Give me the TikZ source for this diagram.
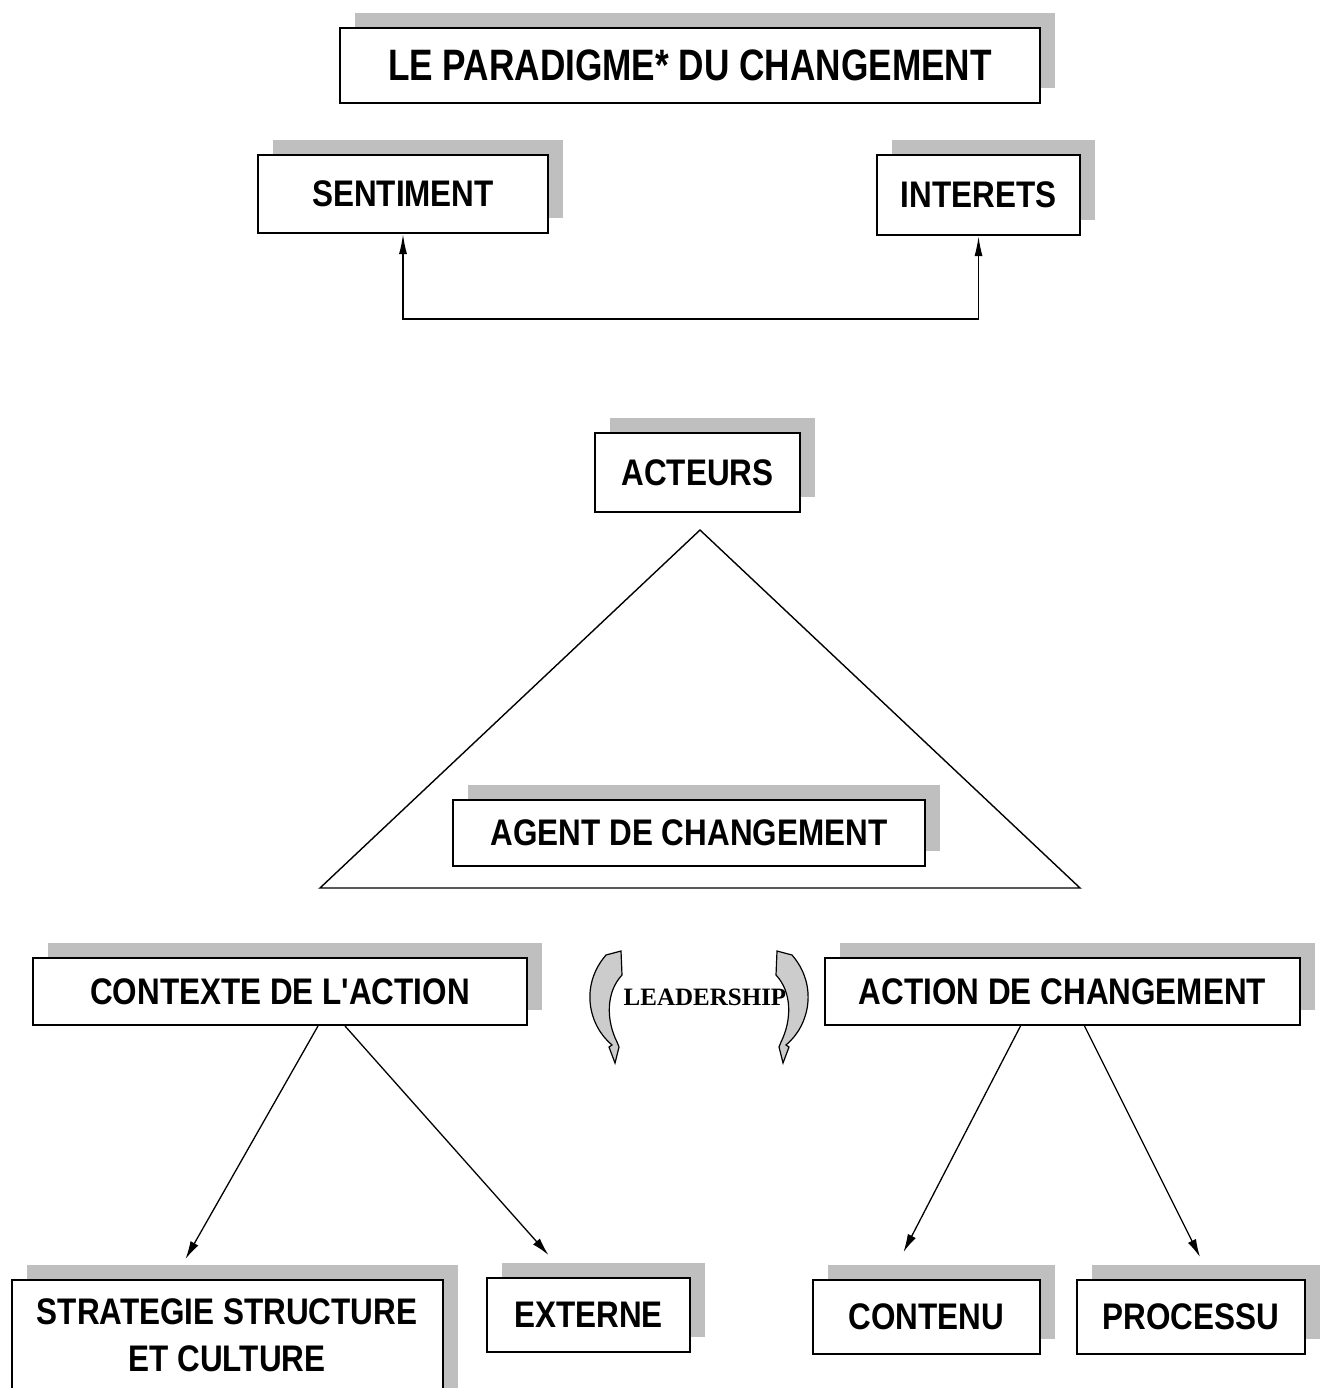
\documentclass[tikz,border=0pt]{standalone}
\usepackage{fontspec}
\usetikzlibrary{shadows,arrows.meta,calc}
\newfontfamily\labfont{Liberation Sans}[FakeStretch=0.85]
\newfontfamily\headfont{Liberation Sans}[FakeStretch=0.80]
\newfontfamily\ldfont{Liberation Serif}

\tikzset{
  box/.style={draw=black, line width=2pt, fill=white, inner sep=0pt,
    font=\labfont\bfseries\fontsize{37}{48}\selectfont, align=center,
    general shadow={shadow xshift=15pt, shadow yshift=15pt, fill=gray!50}},
  link/.style={draw=black, line width=1.3pt, -{Latex[length=18pt,width=9pt]}},
  twoway/.style={draw=black, line width=1.6pt,
    {Latex[length=20pt,width=8pt]}-{Latex[length=20pt,width=8pt]}},
  curvearrow/.style={draw=black, line width=1.2pt, fill=gray!40}
}

\begin{document}
\begin{tikzpicture}[x=1pt, y=-1pt]
\useasboundingbox (0,0) rectangle (1329,1388);
\clip (0,0) rectangle (1329,1388);

% heading
\node[box, minimum width=700pt, minimum height=75pt,
      font=\headfont\bfseries\fontsize{44}{50}\selectfont] (title) at (690,65.5)
      {LE PARADIGME* DU CHANGEMENT};

% the two drivers and their link
\node[box, minimum width=290pt, minimum height=78pt] (sent) at (403,194) {SENTIMENT};
\node[box, minimum width=203pt, minimum height=80pt] (inter) at (978.5,195) {INTERETS};
\draw[twoway] (sent.south) -- ++(0,85) -| (inter.south);

% actors and the change agent
\node[box, minimum width=205pt, minimum height=79pt] (act) at (697.5,472.5) {ACTEURS};
\draw[line width=1.4pt] (700,530) -- (1080,888) -- (320,888) -- cycle;
\node[box, minimum width=472pt, minimum height=66pt] (agent) at (689,833) {AGENT DE CHANGEMENT};

% context and action
\node[box, minimum width=494pt, minimum height=67pt] (ctx) at (280,991.5) {CONTEXTE DE L'ACTION};
\node[box, minimum width=475pt, minimum height=67pt] (action) at (1062.5,991.5) {ACTION DE CHANGEMENT};

% leadership between them
\node[font=\ldfont\bfseries\fontsize{25}{28}\selectfont, inner sep=0pt] (lead) at (705,997) {LEADERSHIP};
\draw[curvearrow] (621,951) -- (622,975) .. controls (606,992) and (606,1020) .. (617,1042)
  -- (619,1047) -- (615,1063) -- (609,1047) -- (612,1045)
  .. controls (588,1025) and (580,985) .. (606,955) -- cycle;
\begin{scope}[shift={(1398,0)}, xscale=-1]
\draw[curvearrow] (621,951) -- (622,975) .. controls (606,992) and (606,1020) .. (617,1042)
  -- (619,1047) -- (615,1063) -- (609,1047) -- (612,1045)
  .. controls (588,1025) and (580,985) .. (606,955) -- cycle;
\end{scope}

% lower level
\node[box, minimum width=431pt, minimum height=140pt] (strat) at (227.5,1350) {};
\node[font=\labfont\bfseries\fontsize{37}{47}\selectfont, align=center, inner sep=0pt]
  (stratlbl) at (227,1335) {STRATEGIE STRUCTURE\\ET CULTURE};
\node[box, minimum width=203pt, minimum height=74pt] (ext) at (588.5,1315) {EXTERNE};
\node[box, minimum width=227pt, minimum height=74pt] (cont) at (926.5,1317) {CONTENU};
\node[box, minimum width=228pt, minimum height=74pt] (proc) at (1191,1317) {PROCESSU};

\draw[link] ($(ctx.south)+(38,0)$) -- ($(strat.north)+(-42,-20)$);
\draw[link] ($(ctx.south)+(65,0)$) -- ($(ext.north)+(-40,-22)$);
\draw[link] ($(action.south)+(-42,0)$) -- ($(cont.north)+(-23,-27)$);
\draw[link] ($(action.south)+(22,0)$) -- ($(proc.north)+(9,-22)$);
\end{tikzpicture}
\end{document}
